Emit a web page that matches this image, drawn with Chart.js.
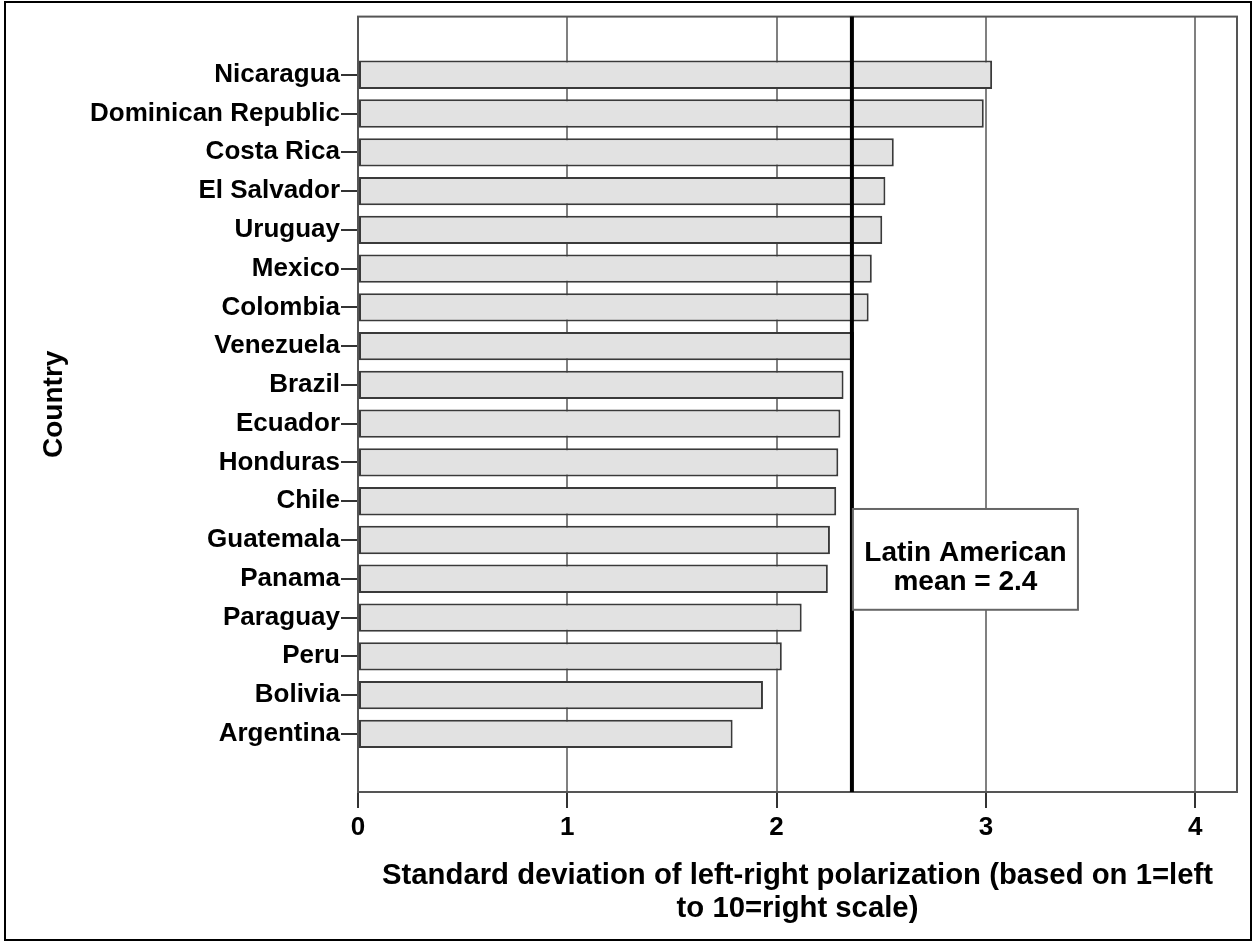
<!DOCTYPE html>
<html>
<head>
<meta charset="utf-8">
<script src="https://cdn.jsdelivr.net/npm/chart.js@4/dist/chart.umd.min.js"></script>
<style>
  html, body { margin: 0; padding: 0; background: #fff; }
  #wrap { width: 1254px; height: 942px; }
</style>
</head>
<body>
<div id="wrap"><canvas id="chart" width="1254" height="942"></canvas></div>
<script>
// ---- Data ----
const countries = [
    "Nicaragua", "Dominican Republic", "Costa Rica", "El Salvador", "Uruguay",
    "Mexico", "Colombia", "Venezuela", "Brazil", "Ecuador", "Honduras", "Chile",
    "Guatemala", "Panama", "Paraguay", "Peru", "Bolivia", "Argentina"
];
const stdDev = [
    3.03, 2.99, 2.56, 2.52, 2.505, 2.455, 2.44, 2.37, 2.32, 2.305, 2.295, 2.285,
    2.255, 2.245, 2.12, 2.025, 1.935, 1.79
];
const xTicks = [0, 1, 2, 3, 4];
const meanValue = 2.36;
const meanText = ["Latin American", "mean = 2.4"];
const xTitle = ["Standard deviation of left-right polarization (based on 1=left", "to 10=right scale)"];
const yTitle = "Country";

// empty slot above and below the bars
const labels = ["", ...countries, ""];
const values = [null, ...stdDev, null];

const FONT = "'Liberation Sans', Arial, sans-serif";

// ---- frame, mean line and label box ----
const extras = {
    id: "extras",
    beforeDraw(chart) {
        const ctx = chart.ctx;
        ctx.save();
        ctx.fillStyle = "#fff";
        ctx.fillRect(0, 0, chart.width, chart.height);
        ctx.strokeStyle = "#000";
        ctx.lineWidth = 2;
        ctx.strokeRect(5, 2, chart.width - 8, chart.height - 4);
        ctx.restore();
    },
    afterDatasetsDraw(chart) {
        const ctx = chart.ctx;
        const a = chart.chartArea;
        const x = chart.scales.x, y = chart.scales.y;
        ctx.save();
        // plot frame
        ctx.strokeStyle = "#555";
        ctx.lineWidth = 2;
        ctx.strokeRect(a.left, a.top, a.right - a.left, a.bottom - a.top);
        // mean line
        const mx = x.getPixelForValue(meanValue);
        ctx.strokeStyle = "#000";
        ctx.lineWidth = 4;
        ctx.beginPath();
        ctx.moveTo(mx, a.top);
        ctx.lineTo(mx, a.bottom);
        ctx.stroke();
        // label box
        const bx0 = mx + 1, bx1 = x.getPixelForValue(3.44);
        const by0 = y.getPixelForValue(12.2), by1 = y.getPixelForValue(14.8);
        ctx.fillStyle = "#fff";
        ctx.fillRect(bx0, by0, bx1 - bx0, by1 - by0);
        ctx.strokeStyle = "#666";
        ctx.lineWidth = 2;
        ctx.strokeRect(bx0, by0, bx1 - bx0, by1 - by0);
        ctx.fillStyle = "#000";
        ctx.font = "bold 28px " + FONT;
        ctx.textAlign = "center";
        ctx.textBaseline = "alphabetic";
        const cx = (bx0 + bx1) / 2, cy = (by0 + by1) / 2;
        ctx.fillText(meanText[0], cx, cy + 2);
        ctx.fillText(meanText[1], cx, cy + 31);
        ctx.restore();
    }
};

new Chart(document.getElementById("chart"), {
    type: "bar",
    data: {
        labels: labels,
        datasets: [{
            data: values,
            backgroundColor: "#e2e2e2",
            borderColor: "#3a3a3a",
            borderWidth: 2,
            borderSkipped: false,
            barPercentage: 0.73,
            categoryPercentage: 1
        }]
    },
    options: {
        indexAxis: "y",
        responsive: false,
        animation: false,
        layout: { padding: { top: 16, right: 17, bottom: 0, left: 0 } },
        plugins: { legend: { display: false }, tooltip: { enabled: false } },
        scales: {
            x: {
                min: 0,
                max: 4.2,
                afterFit(s) { s.height = 150; },
                afterBuildTicks(s) { s.ticks = xTicks.map(v => ({ value: v })); },
                grid: {
                    color: "#808080",
                    lineWidth: 2,
                    tickLength: 16,
                    tickColor: "#333"
                },
                border: { display: false },
                ticks: {
                    color: "#000",
                    padding: 4,
                    font: { family: FONT, size: 26, weight: "bold" }
                },
                title: {
                    display: true,
                    text: xTitle,
                    color: "#000",
                    font: { family: FONT, size: 29.3, weight: "bold", lineHeight: 1.14 },
                    padding: { top: 0, bottom: 16 }
                }
            },
            y: {
                afterFit(s) { s.width = 358; },
                grid: {
                    offset: false,
                    drawOnChartArea: false,
                    tickLength: 17,
                    lineWidth: 2,
                    tickColor: ctx => (labels[ctx.index] ? "#333" : "rgba(0,0,0,0)")
                },
                border: { display: true, color: "#333", width: 2 },
                ticks: {
                    color: "#000",
                    padding: 1,
                    autoSkip: false,
                    font: { family: FONT, size: 26, weight: "bold" }
                },
                title: {
                    display: true,
                    text: yTitle,
                    color: "#000",
                    font: { family: FONT, size: 28, weight: "bold", lineHeight: 1.2 },
                    padding: { top: 37, bottom: 0 }
                }
            }
        }
    },
    plugins: [extras]
});
</script>
</body>
</html>
